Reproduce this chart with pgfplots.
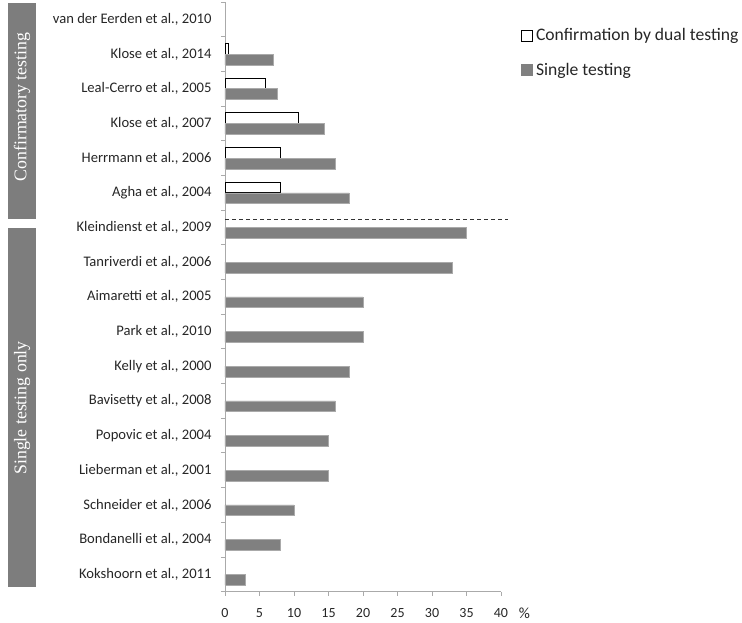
\documentclass[border=0pt]{standalone}
\usepackage{pgfplots}
\pgfplotsset{compat=1.18}
\usepackage{fontspec}
\setmainfont{Carlito}
\newfontfamily\boxfont{Liberation Serif}
\definecolor{bargray}{RGB}{128,128,128}
\definecolor{baredge}{RGB}{170,170,170}
\definecolor{boxgray}{RGB}{125,125,125}
\definecolor{axgray}{RGB}{170,170,170}
\begin{document}
\begin{tikzpicture}
\useasboundingbox (0,0) rectangle (742pt,623pt);
% group boxes
\fill[boxgray] (8pt,404pt) rectangle (36pt,619.7pt);
\fill[boxgray] (8pt,36.3pt) rectangle (36pt,395pt);
\node[rotate=90, text=white, font=\boxfont\fontsize{17.8}{20}\selectfont] at (22pt,516pt) {Confirmatory testing};
\node[rotate=90, text=white, font=\boxfont\fontsize{17.8}{20}\selectfont] at (22pt,215pt) {Single testing only};
\begin{axis}[
  at={(225pt,31.3pt)}, anchor=south west,
  scale only axis, width=276pt, height=589.7pt,
  xbar, xmin=0, xmax=40, ymin=-0.5, ymax=16.5,
  bar width=0.31,
  clip=false,
  axis x line*=bottom, axis y line*=left,
  axis line style={axgray, line width=0.9pt},
  tick align=outside,
  major tick length=4pt,
  tick style={draw=axgray, line width=0.9pt},
  xtick={0,5,...,40},
  ytick={-0.5,0.5,1.5,2.5,3.5,4.5,5.5,6.5,7.5,8.5,9.5,10.5,11.5,12.5,13.5,14.5,15.5,16.5},
  yticklabels={},
  extra y ticks={0,1,2,3,4,5,6,7,8,9,10,11,12,13,14,15,16},
  extra y tick labels={{Kokshoorn et al., 2011},{Bondanelli et al., 2004},{Schneider et al., 2006},{Lieberman et al., 2001},{Popovic et al., 2004},{Bavisetty et al., 2008},{Kelly et al., 2000},{Park et al., 2010},{Aimaretti et al., 2005},{Tanriverdi et al., 2006},{Kleindienst et al., 2009},{Agha et al., 2004},{Herrmann et al., 2006},{Klose et al., 2007},{Leal-Cerro et al., 2005},{Klose et al., 2014},{van der Eerden et al., 2010}},
  extra y tick style={major tick length=0pt, tick style={draw=none},
    yticklabel style={font=\fontsize{14.6}{17}\selectfont, text=black!85, xshift=-10pt}},
  /pgf/number format/assume math mode=true,
  xticklabel style={font=\fontsize{14}{16}\selectfont, text=black!85, yshift=-9.5pt},
  legend style={at={(1.062,0.962)}, anchor=north west, draw=none, fill=none,
    font=\fontsize{17.6}{20}\selectfont, row sep=17pt, text=black!85,
    nodes={inner xsep=3pt}},
  legend cell align=left,
]
\addplot[fill=white, draw=black, line width=0.8pt, bar shift=0.155,
  legend image code/.code={\draw[fill=white, draw=black, line width=0.7pt] (0pt,-5.5pt) rectangle (11pt,5.5pt);}]
  coordinates {(0.5,15) (5.8,14) (10.6,13) (8,12) (8,11)};
\addlegendentry{Confirmation by dual testing}
\addplot[fill=bargray, draw=baredge, line width=0.5pt, bar shift=-0.155,
  legend image code/.code={\fill[bargray] (0pt,-5.5pt) rectangle (11pt,5.5pt);}]
  coordinates {(7,15) (7.6,14) (14.4,13) (16,12) (18,11) (35,10) (33,9) (20,8) (20,7) (18,6) (16,5) (15,4) (15,3) (10,2) (8,1) (3,0)};
\addlegendentry{Single testing}
\draw[black!80, line width=0.8pt, dash pattern=on 4pt off 3pt] (axis cs:0,10.23) -- (axis cs:41,10.23);
\node[font=\fontsize{15.5}{18}\selectfont, text=black!85] at (axis cs:40,-0.5) [xshift=23.5pt, yshift=-21.5pt] {\%};
\end{axis}
\end{tikzpicture}
\end{document}
